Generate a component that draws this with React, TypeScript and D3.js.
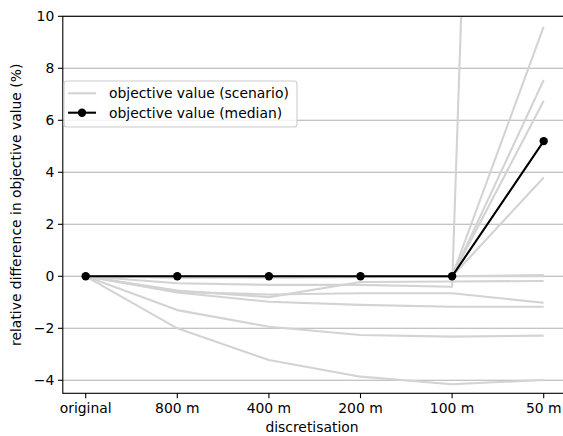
import React, { useRef, useEffect } from 'react';
import * as d3 from 'd3';

const categories = ['original', '800 m', '400 m', '200 m', '100 m', '50 m'];

const scenarios: number[][] = [
  [0, -2.0, -3.22, -3.86, -4.15, -3.99],
  [0, -1.3, -1.94, -2.26, -2.32, -2.28],
  [0, -0.62, -0.98, -1.1, -1.17, -1.17],
  [0, -0.6, -0.7, -0.65, -0.65, -1.02],
  [0, -0.55, -0.8, -0.22, -0.2, -0.18],
  [0, -0.27, -0.33, -0.33, -0.4, 105],
  [0, -0.05, -0.05, -0.03, 0.0, 0.05],
  [0, 0, 0, 0, 0, 0.0],
  [0, -0.02, -0.03, -0.02, 0, 9.6],
  [0, 0, -0.02, 0, -0.02, 7.55],
  [0, -0.03, 0, 0, 0, 6.75],
  [0, 0, 0, 0, 0, 3.8]
];

const median = [0, 0, 0, 0, 0, 5.2];

const yTicks = [-4, -2, 0, 2, 4, 6, 8, 10];

const W = 563;
const H = 436;
const FONT = 'DejaVu Sans, sans-serif';
const FS = 13.9;

const App = () => {
  const ref = useRef<SVGSVGElement>(null);

  useEffect(() => {
    const svg = d3.select(ref.current);
    svg.selectAll('*').remove();

    const left = 62.8;
    const top = 16.3;
    const bottom = 393.3;
    const plotW = 503.8;

    const x = d3.scaleLinear().domain([-0.25, categories.length - 0.75]).range([left, left + plotW]);
    const y = d3.scaleLinear().domain([-4.5, 10]).range([bottom, top]);

    svg.append('defs').append('clipPath').attr('id', 'plot-clip')
      .append('rect')
      .attr('x', left).attr('y', top)
      .attr('width', plotW).attr('height', bottom - top);

    // grid
    svg.append('g').selectAll('line')
      .data(yTicks)
      .enter().append('line')
      .attr('x1', left).attr('x2', left + plotW)
      .attr('y1', d => y(d)).attr('y2', d => y(d))
      .attr('stroke', '#b0b0b0')
      .attr('stroke-width', 1.1);

    const line = d3.line<number>()
      .x((_, i) => x(i))
      .y(d => y(d));

    const plot = svg.append('g').attr('clip-path', 'url(#plot-clip)');

    plot.selectAll('.scenario')
      .data(scenarios)
      .enter().append('path')
      .attr('class', 'scenario')
      .attr('d', d => line(d))
      .attr('fill', 'none')
      .attr('stroke', 'lightgray')
      .attr('stroke-width', 2.1)
      .attr('stroke-linejoin', 'round');

    plot.append('path')
      .attr('d', line(median))
      .attr('fill', 'none')
      .attr('stroke', 'black')
      .attr('stroke-width', 2.1);

    plot.selectAll('.dot')
      .data(median)
      .enter().append('circle')
      .attr('class', 'dot')
      .attr('cx', (_, i) => x(i))
      .attr('cy', d => y(d))
      .attr('r', 4.2)
      .attr('fill', 'black');

    // spines
    svg.append('rect')
      .attr('x', left).attr('y', top)
      .attr('width', plotW).attr('height', bottom - top)
      .attr('fill', 'none')
      .attr('stroke', 'black')
      .attr('stroke-width', 1.1);

    // x ticks
    const xt = svg.append('g');
    categories.forEach((c, i) => {
      xt.append('line')
        .attr('x1', x(i)).attr('x2', x(i))
        .attr('y1', bottom).attr('y2', bottom + 4.9)
        .attr('stroke', 'black').attr('stroke-width', 1.1);
      xt.append('text')
        .attr('x', x(i)).attr('y', bottom + 19.5)
        .attr('text-anchor', 'middle')
        .attr('font-family', FONT).attr('font-size', FS)
        .attr('fill', 'black')
        .text(c);
    });

    // y ticks
    const yt = svg.append('g');
    yTicks.forEach(t => {
      yt.append('line')
        .attr('x1', left - 4.9).attr('x2', left)
        .attr('y1', y(t)).attr('y2', y(t))
        .attr('stroke', 'black').attr('stroke-width', 1.1);
      yt.append('text')
        .attr('x', left - 8.5).attr('y', y(t))
        .attr('dy', '0.35em')
        .attr('text-anchor', 'end')
        .attr('font-family', FONT).attr('font-size', FS)
        .attr('fill', 'black')
        .text(t < 0 ? '\u2212' + Math.abs(t) : String(t));
    });

    svg.append('text')
      .attr('x', 312).attr('y', 432)
      .attr('text-anchor', 'middle')
      .attr('font-family', FONT).attr('font-size', FS)
      .text('discretisation');

    svg.append('text')
      .attr('transform', `translate(21, ${(top + bottom) / 2}) rotate(-90)`)
      .attr('text-anchor', 'middle')
      .attr('font-family', FONT).attr('font-size', FS)
      .text('relative difference in objective value (%)');

    // legend
    const lg = svg.append('g');
    lg.append('rect')
      .attr('x', 64).attr('y', 81)
      .attr('width', 233).attr('height', 46)
      .attr('rx', 3)
      .attr('fill', 'white').attr('fill-opacity', 0.8)
      .attr('stroke', '#cccccc').attr('stroke-width', 1.1);

    const entries = [
      { label: 'objective value (scenario)', color: 'lightgray', dot: false },
      { label: 'objective value (median)', color: 'black', dot: true }
    ];
    entries.forEach((e, i) => {
      const cy = 93.3 + i * 19.4;
      lg.append('line')
        .attr('x1', 68).attr('x2', 96)
        .attr('y1', cy).attr('y2', cy)
        .attr('stroke', e.color).attr('stroke-width', 2.1);
      if (e.dot) {
        lg.append('circle').attr('cx', 82).attr('cy', cy).attr('r', 4.2).attr('fill', 'black');
      }
      lg.append('text')
        .attr('x', 109).attr('y', cy)
        .attr('dy', '0.35em')
        .attr('font-family', FONT).attr('font-size', FS)
        .text(e.label);
    });
  }, []);

  return (
    <svg ref={ref} width={W} height={H} style={{ position: 'absolute', left: 0, top: 0, background: 'white' }}></svg>
  );
};

export default App;
